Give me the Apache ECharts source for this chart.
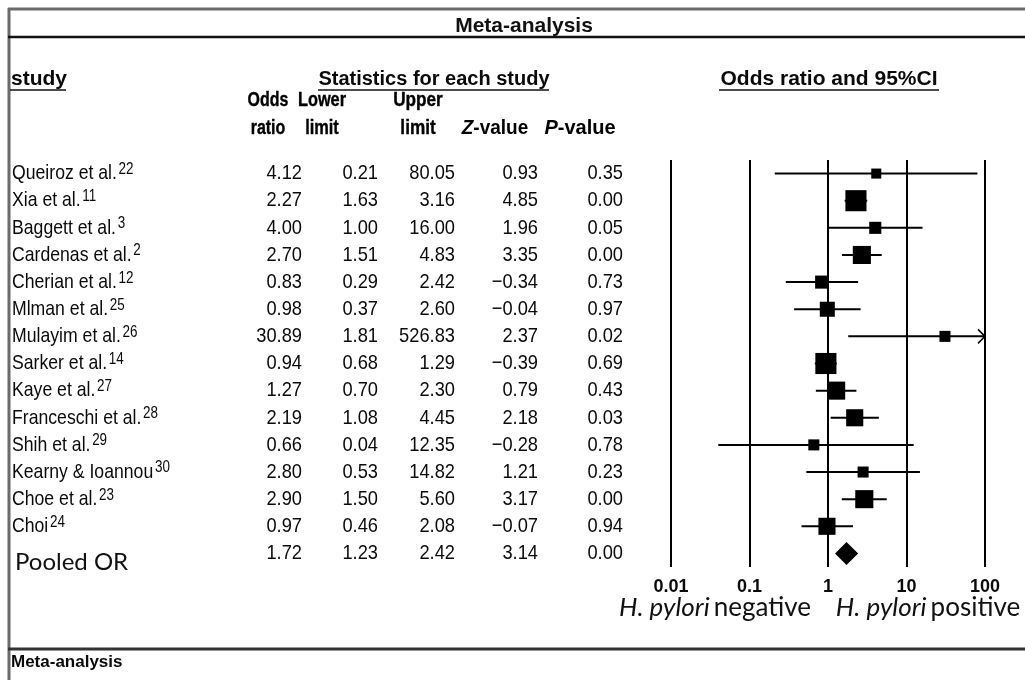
<!DOCTYPE html>
<html><head><meta charset="utf-8">
<script src="https://cdn.jsdelivr.net/npm/echarts@6/dist/echarts.min.js"></script>
<style>html,body{margin:0;padding:0;background:#fff}#c{width:1025px;height:680px}</style>
</head><body><div id="c"></div>
<script>
// ---------- data ----------
const studies = ['Queiroz et al.','Xia et al.','Baggett et al.','Cardenas et al.','Cherian et al.','Mlman et al.','Mulayim et al.','Sarker et al.','Kaye et al.','Franceschi et al.','Shih et al.','Kearny & Ioannou','Choe et al.','Choi','Pooled OR'];
const refs = ['22','11','3','2','12','25','26','14','27','28','29','30','23','24',''];
const oddsRatio = [4.12,2.27,4.00,2.70,0.83,0.98,30.89,0.94,1.27,2.19,0.66,2.80,2.90,0.97,1.72];
const lowerLimit = [0.21,1.63,1.00,1.51,0.29,0.37,1.81,0.68,0.70,1.08,0.04,0.53,1.50,0.46,1.23];
const upperLimit = [80.05,3.16,16.00,4.83,2.42,2.60,526.83,1.29,2.30,4.45,12.35,14.82,5.60,2.08,2.42];
const zValue = [0.93,4.85,1.96,3.35,-0.34,-0.04,2.37,-0.39,0.79,2.18,-0.28,1.21,3.17,-0.07,3.14];
const pValue = [0.35,0.00,0.05,0.00,0.73,0.97,0.02,0.69,0.43,0.03,0.78,0.23,0.00,0.94,0.00];
const weights = [2.9,12.8,4.2,9.4,4.9,6.5,3.5,12.8,9.4,8.4,3.5,3.5,9.4,8.4,null];
const axisTicks = [0.01,0.1,1,10,100];

// ---------- layout / style ----------
const ARIAL = "'Liberation Sans',Arial,sans-serif";
const HUMAN = "Lato,'Open Sans',sans-serif";
const GRID_TOP = 160, GRID_BOTTOM = 113;
const COL_RIGHT = [302, 378, 455, 538, 623];
const NAME_X = 12;
const SQ_K = 5.9;
const X_MIN = axisTicks[0], X_MAX = axisTicks[axisTicks.length-1];

const fmt = v => v.toFixed(2).replace('-', '\u2212');
const tableCols = [oddsRatio, lowerLimit, upperLimit, zValue, pValue];

const chart = echarts.init(document.getElementById('c'), null, {renderer:'canvas'});

const nameRich = {
  n: {fontFamily: ARIAL, fontSize: 21, fill: '#0a0a0a', lineHeight: 24},
  s: {fontFamily: ARIAL, fontSize: 16, fill: '#0a0a0a', verticalAlign: 'top', lineHeight: 12, padding:[0,0,0,2]}
};

const colHeaders = [
  {x: 268, l1: 'Odds', l2: 'ratio', sx: 0.8},
  {x: 322, l1: 'Lower', l2: 'limit', sx: 0.82},
  {x: 418, l1: 'Upper', l2: 'limit', sx: 0.86},
  {x: 495, l1: '', l2: '{i|Z}{b|-value}', sx: 0.95, rich: true},
  {x: 580, l1: '', l2: '{i|P}{b|-value}', sx: 1.0, rich: true}
];
const hdrRich = {
  i: {fontFamily: ARIAL, fontSize: 20, fontWeight: 'bold', fontStyle: 'italic', fill: '#000'},
  b: {fontFamily: ARIAL, fontSize: 20, fontWeight: 'bold', fill: '#000'}
};
const subRich = {
  i: {fontFamily: HUMAN, fontSize: 26, fontStyle: 'italic', fill: '#111'},
  n: {fontFamily: HUMAN, fontSize: 26, fill: '#111', padding: [0,0,0,4]}
};
const hdrStyle = (text) => ({text, font: 'bold 21px ' + ARIAL, fill: '#000', stroke: '#000', lineWidth: 0.4,
                             align: 'center', verticalAlign: 'middle'});

const graphics = [
  // frame
  {type:'line', shape:{x1:9, y1:8, x2:9, y2:680}, style:{stroke:'#6b6b6b', lineWidth:3}},
  {type:'line', shape:{x1:8, y1:9, x2:1025, y2:9}, style:{stroke:'#6b6b6b', lineWidth:3}},
  {type:'line', shape:{x1:8, y1:37, x2:1025, y2:37}, style:{stroke:'#111', lineWidth:2.5}},
  {type:'line', shape:{x1:8, y1:649, x2:1025, y2:649}, style:{stroke:'#333', lineWidth:3}},
  // section headers
  {type:'text', x:11, y:79, style:{text:'study', font:'bold 21px '+ARIAL, fill:'#0a0a0a', verticalAlign:'middle', align:'left'}},
  {type:'line', shape:{x1:10, y1:90, x2:66, y2:90}, style:{stroke:'#111', lineWidth:1.5}},
  {type:'text', x:434, y:79, style:{text:'Statistics for each study', font:'bold 20px '+ARIAL, fill:'#0a0a0a', verticalAlign:'middle', align:'center'}},
  {type:'line', shape:{x1:318, y1:90, x2:549, y2:90}, style:{stroke:'#111', lineWidth:1.5}},
  {type:'text', x:829, y:79, style:{text:'Odds ratio and 95%CI', font:'bold 21px '+ARIAL, fill:'#0a0a0a', verticalAlign:'middle', align:'center'}},
  {type:'line', shape:{x1:719, y1:90, x2:939, y2:90}, style:{stroke:'#111', lineWidth:1.5}},
  // footer
  {type:'text', x:11, y:662, style:{text:'Meta-analysis', font:'bold 17px '+ARIAL, fill:'#0a0a0a', verticalAlign:'middle', align:'left'}},
  // axis subtitles
  {type:'text', x:715, y:608, style:{text:'{i|H. pylori}{n|negative}', align:'center', verticalAlign:'middle', rich: subRich}},
  {type:'text', x:928, y:608, style:{text:'{i|H. pylori}{n|positive}', align:'center', verticalAlign:'middle', rich: subRich}}
];
colHeaders.forEach(h => {
  if (h.l1) graphics.push({type:'text', x:h.x, y:100, scaleX:h.sx * 0.95, style: hdrStyle(h.l1)});
  if (h.rich) graphics.push({type:'text', x:h.x, y:128, scaleX:h.sx, style:{text:h.l2, rich: hdrRich, align:'center', verticalAlign:'middle'}});
  else graphics.push({type:'text', x:h.x, y:128, scaleX:h.sx * 0.95, style: hdrStyle(h.l2)});
});

const option = {
  animation: false,
  backgroundColor: '#fff',
  title: {
    text: 'Meta-analysis', left: 519, top: 11, textAlign: 'center',
    textStyle: {fontFamily: ARIAL, fontSize: 21, fontWeight: 'bold', color: '#111'}
  },
  grid: [
    {left: 12, right: 400, top: GRID_TOP, bottom: GRID_BOTTOM, containLabel: false, outerBoundsMode: 'none'},
    {left: 671, right: 40, top: GRID_TOP, bottom: GRID_BOTTOM, containLabel: false, outerBoundsMode: 'none'}
  ],
  xAxis: [
    {gridIndex: 0, type: 'value', min: 0, max: 1, show: false},
    {gridIndex: 1, type: 'log', logBase: 10, min: X_MIN, max: X_MAX,
     axisLine: {show: false}, axisTick: {show: false},
     splitLine: {show: true, showMinLine: true, showMaxLine: true, lineStyle: {color: '#000', width: 2}},
     axisLabel: {show: true, margin: 11, fontFamily: ARIAL, fontSize: 18, fontWeight: 'bold', color: '#0a0a0a',
                 showMinLabel: true, showMaxLabel: true, formatter: v => String(+v.toPrecision(3))}}
  ],
  yAxis: [
    {gridIndex: 0, type: 'category', inverse: true, data: studies, show: false},
    {gridIndex: 1, type: 'category', inverse: true, data: studies, show: false}
  ],
  graphic: graphics,
  series: [
    {
      type: 'custom', xAxisIndex: 0, yAxisIndex: 0, clip: false,
      data: studies.map((s, i) => [0, i]),
      renderItem: (params, api) => {
        const i = api.value(1);
        const y = api.coord([0, i])[1];
        const pooled = i === studies.length - 1;
        const children = tableCols.map((col, j) => ({
          type: 'text', x: COL_RIGHT[j], y: y, scaleX: 0.87,
          style: {text: fmt(col[i]), font: '21px ' + ARIAL, fill: '#0a0a0a', align: 'right', verticalAlign: 'middle'}
        }));
        if (pooled) {
          children.push({type: 'text', x: NAME_X + 3, y: y + 9,
            style: {text: studies[i], font: '24px ' + HUMAN, fill: '#111', align: 'left', verticalAlign: 'middle'}});
        } else {
          children.push({type: 'text', x: NAME_X, y: y, scaleX: 0.84,
            style: {text: '{n|' + studies[i] + '}' + (refs[i] ? '{s|' + refs[i] + '}' : ''), rich: nameRich,
                    align: 'left', verticalAlign: 'middle'}});
        }
        return {type: 'group', children};
      }
    },
    {
      type: 'custom', xAxisIndex: 1, yAxisIndex: 1, clip: false,
      data: studies.map((s, i) => [oddsRatio[i], lowerLimit[i], upperLimit[i], i]),
      renderItem: (params, api) => {
        const i = api.value(3);
        const c = api.coord([api.value(0), i]);
        const l = api.coord([api.value(1), i]);
        const hiRaw = api.value(2);
        const h = api.coord([Math.min(hiRaw, X_MAX), i]);
        const y = c[1];
        const children = [];
        if (weights[i] == null) {
          children.push({type: 'polygon', shape: {points: [[l[0], y], [c[0], y - 11.5], [h[0], y], [c[0], y + 11.5]]},
                         style: {fill: '#000'}});
        } else {
          const s = SQ_K * Math.sqrt(weights[i]);
          children.push({type: 'line', shape: {x1: l[0], y1: y, x2: h[0], y2: y}, style: {stroke: '#000', lineWidth: 2}});
          if (hiRaw > X_MAX) {
            children.push({type: 'polyline', shape: {points: [[h[0] - 7, y - 7], [h[0], y], [h[0] - 7, y + 7]]},
                           style: {stroke: '#000', lineWidth: 1.5, fill: null}});
          }
          children.push({type: 'rect', shape: {x: c[0] - s / 2, y: y - s / 2, width: s, height: s}, style: {fill: '#000'}});
        }
        return {type: 'group', children};
      }
    }
  ]
};
chart.setOption(option);
</script>
</body></html>
